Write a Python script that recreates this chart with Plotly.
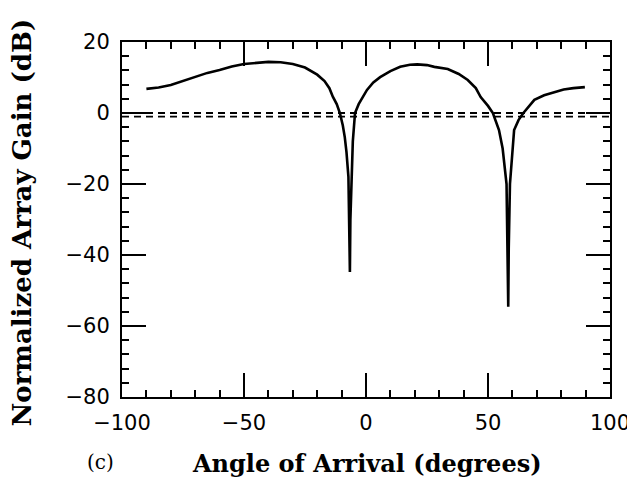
import plotly.graph_objects as go

# Angle of arrival (degrees) and normalized array gain (dB)
angle = [-90, -85, -80, -75, -70, -65, -60, -55, -50, -45, -40, -35, -30, -25,
         -20, -17, -15, -13.6, -12, -10.7, -9.5, -8.7, -8.0, -7.2, -6.8, -6.6,
         -6.4, -6.0, -5.4, -4.5, -3.0, 0.4, 3, 5.8, 10, 14, 18, 21, 25, 28, 33.5,
         38, 41.7, 45, 47, 50, 52, 54.5, 56, 57.6, 58.1, 58.3, 58.5, 59.0, 60.7,
         62.5, 64.5, 67, 69, 73, 77, 81, 85, 89.7]
gain = [6.8, 7.2, 7.9, 9.0, 10.2, 11.3, 12.1, 13.1, 13.8, 14.2, 14.4, 14.3, 13.8,
        12.8, 10.8, 9.0, 7.0, 4.6, 2.5, 0.0, -3.5, -6.8, -11.0, -18.0, -30.0,
        -44.8, -30.0, -18.0, -8.0, 0.0, 2.5, 6.5, 8.6, 10.1, 11.8, 13.0, 13.6,
        13.7, 13.5, 13.0, 12.4, 11.0, 9.3, 7.0, 4.5, 2.0, 0.0, -4.8, -10.0,
        -20.0, -38.0, -54.6, -38.0, -20.0, -4.8, -2.0, 0.0, 2.2, 3.7, 5.0, 5.9,
        6.6, 7.0, 7.3]

ref_x = [-100, 100]
ref_upper = [0, 0]
ref_lower = [-1, -1]

x_ticks = [-100, -50, 0, 50, 100]
x_labels = ["\u2212100", "\u221250", "0", "50", "100"]
y_ticks = [20, 0, -20, -40, -60, -80]
y_labels = ["20", "0", "\u221220", "\u221240", "\u221260", "\u221280"]

x_title = "Angle of Arrival (degrees)"
y_title = "Normalized Array Gain (dB)"
panel_label = "(c)"

fig = go.Figure()
for ry in (ref_upper, ref_lower):
    fig.add_trace(go.Scatter(x=ref_x, y=ry, mode="lines",
                             line=dict(color="black", width=1.8, dash="7px,5px"),
                             showlegend=False, hoverinfo="skip"))
fig.add_trace(go.Scatter(x=angle, y=gain, mode="lines",
                         line=dict(color="black", width=2.6),
                         showlegend=False))

tick_font = dict(family="DejaVu Sans", size=21, color="black")
serif = "DejaVu Serif"

fig.update_layout(
    width=627, height=471,
    margin=dict(l=114, r=25, t=34, b=82),
    paper_bgcolor="white", plot_bgcolor="white",
    xaxis=dict(range=[-100, 100], tickvals=x_ticks, ticktext=x_labels,
               ticks="inside", ticklen=24, tickwidth=1.5, tickcolor="black",
               showline=True, linecolor="black", linewidth=2, mirror="allticks",
               showgrid=False, zeroline=False, tickfont=tick_font,
               ticklabelstandoff=6, automargin=False,
               minor=dict(dtick=10, tick0=0, ticks="inside", ticklen=7,
                          tickwidth=1.5, tickcolor="black", showgrid=False)),
    yaxis=dict(range=[-80, 20], tickvals=y_ticks, ticktext=y_labels,
               ticks="inside", ticklen=24, tickwidth=1.5, tickcolor="black",
               showline=True, linecolor="black", linewidth=2, mirror="allticks",
               showgrid=False, zeroline=False, tickfont=tick_font,
               ticklabelstandoff=6, automargin=False,
               minor=dict(dtick=4, tick0=0, ticks="inside", ticklen=7,
                          tickwidth=1.5, tickcolor="black", showgrid=False)),
)

fig.add_annotation(x=0.502, y=-0.186, xref="paper", yref="paper",
                   text="<b>" + x_title + "</b>", showarrow=False,
                   xanchor="center", yanchor="middle",
                   font=dict(family=serif, size=24, color="black"))
fig.add_annotation(x=-0.204, y=0.493, xref="paper", yref="paper",
                   text="<b>" + y_title + "</b>", showarrow=False, textangle=-90,
                   xanchor="center", yanchor="middle",
                   font=dict(family=serif, size=26, color="black"))
fig.add_annotation(x=-0.045, y=-0.183, xref="paper", yref="paper",
                   text=panel_label, showarrow=False, xanchor="center", yanchor="middle",
                   font=dict(family=serif, size=20, color="black"))

fig.write_html("out.html")
